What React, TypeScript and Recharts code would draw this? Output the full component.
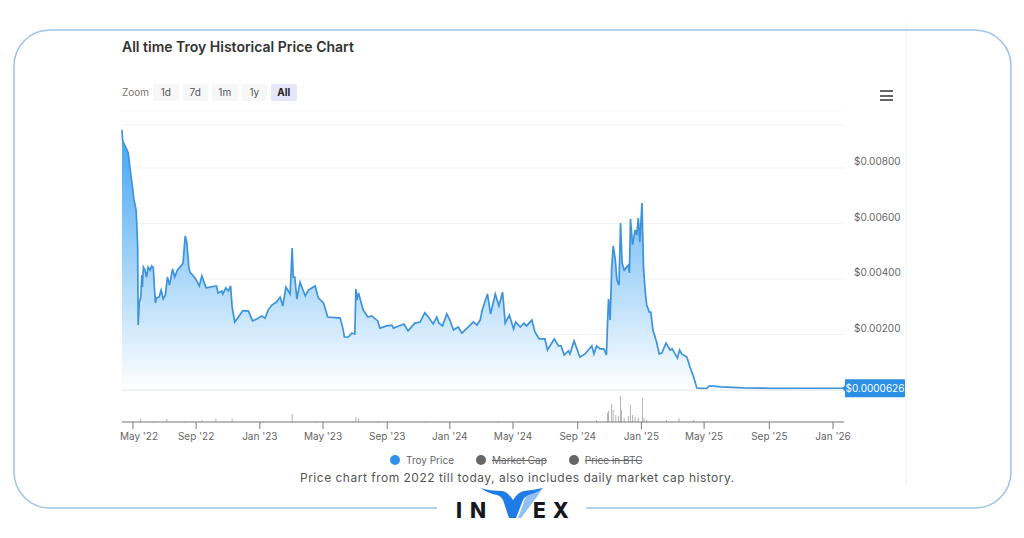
import React from 'react';
import {
  ComposedChart, AreaChart, Area, Bar, XAxis, YAxis, CartesianGrid, ReferenceLine, ReferenceDot
} from 'recharts';

// x values are days counted from the May '22 tick
const priceDays = [
  -21, -20, -19, -13, -9, -6, -2, 2, 6, 7, 9, 10, 12, 15, 17, 18, 20, 23, 26, 29, 33, 36, 39, 41, 43, 45, 50, 54, 58, 62,
  66, 70, 76, 80, 85, 93, 96, 100, 103, 107, 109, 119, 127, 132, 140, 160, 163, 170, 172, 178, 183, 187, 190, 195, 202,
  210, 221, 229, 237, 247, 253, 259, 266, 275, 282, 287, 293, 301, 305, 307, 310, 314, 320, 330, 336, 349, 355, 365, 373,
  397, 402, 405, 413, 419, 425, 427, 429, 432, 441, 450, 457, 469, 473, 486, 496, 499, 519, 527, 540, 550, 559, 566, 575,
  582, 586, 593, 601, 607, 614, 623, 630, 646, 652, 659, 665, 669, 679, 685, 694, 701, 708, 713, 721, 729, 733, 742, 749,
  754, 764, 770, 778, 789, 794, 807, 815, 820, 826, 834, 837, 845, 856, 866, 879, 883, 888, 895, 902, 907, 909, 911, 914,
  917, 920, 924, 927, 931, 934, 937, 941, 949, 951, 953, 957, 962, 965, 968, 971, 975, 978, 981, 984, 989, 992, 996, 1003,
  1008, 1013, 1021, 1029, 1033, 1043, 1047, 1051, 1061, 1067, 1074, 1080, 1099, 1103, 1112, 1125, 1169, 1207, 1221, 1362,
];
const prices = [
  0.00937, 0.00901, 0.00894, 0.00872, 0.00854, 0.00804, 0.00746, 0.00685, 0.00649, 0.00613, 0.00515, 0.00234, 0.00314,
  0.00335, 0.00414, 0.00371, 0.00443, 0.00432, 0.00407, 0.00443, 0.00432, 0.00447, 0.0044, 0.00371, 0.00314, 0.00332,
  0.00335, 0.0036, 0.00328, 0.00342, 0.00407, 0.00378, 0.00436, 0.00407, 0.00432, 0.0045, 0.00458, 0.00555, 0.00533,
  0.00443, 0.00425, 0.00404, 0.00375, 0.00411, 0.00368, 0.00375, 0.0035, 0.00357, 0.00346, 0.00368, 0.00357, 0.00375,
  0.00299, 0.00245, 0.00263, 0.00285, 0.00285, 0.00249, 0.00256, 0.00267, 0.00259, 0.00288, 0.00306, 0.00317, 0.00335,
  0.00303, 0.00371, 0.00346, 0.00512, 0.00407, 0.00407, 0.00328, 0.00389, 0.00339, 0.0036, 0.00375, 0.00332, 0.00314,
  0.00263, 0.00259, 0.00223, 0.00191, 0.00191, 0.00205, 0.00202, 0.00364, 0.00324, 0.0035, 0.00288, 0.00263, 0.00267,
  0.00249, 0.00223, 0.00231, 0.00234, 0.00223, 0.00238, 0.00213, 0.00241, 0.00245, 0.00278, 0.00263, 0.00238, 0.00263,
  0.00241, 0.00231, 0.00274, 0.00252, 0.00216, 0.00227, 0.00205, 0.00234, 0.00245, 0.00234, 0.00252, 0.00288, 0.00346,
  0.00274, 0.00346, 0.00303, 0.00353, 0.00241, 0.0027, 0.0022, 0.00245, 0.00227, 0.00241, 0.00231, 0.00252, 0.00209,
  0.00184, 0.00184, 0.00144, 0.00184, 0.00159, 0.00159, 0.00126, 0.00141, 0.0013, 0.00177, 0.00119, 0.0013, 0.00159,
  0.0013, 0.00159, 0.00148, 0.00148, 0.00126, 0.00241, 0.00328, 0.00252, 0.0044, 0.00519, 0.00469, 0.00396, 0.00378,
  0.00602, 0.00458, 0.00432, 0.0045, 0.00422, 0.00616, 0.00523, 0.00577, 0.00559, 0.0062, 0.00533, 0.00674, 0.0044,
  0.0036, 0.00306, 0.00281, 0.00281, 0.00216, 0.00173, 0.0013, 0.00133, 0.00169, 0.00144, 0.00148, 0.00115, 0.00144,
  0.0013, 0.00119, 0.00083, 0.00047, 0.00007, 0.00005, 0.00014, 0.00014, 0.00011, 0.00008, 0.00007, 0.00006, 0.0000626,
];

const volumeDays = [
  15, 40, 65, 100, 132, 159, 190, 250, 305, 350, 427, 432, 470, 560, 700, 888, 909, 911, 917, 920, 925, 930, 934, 936, 941,
  949, 953, 957, 962, 968, 976, 979, 984, 1022, 1046, 1074,
];
const volumes = [
  30, 10, 30, 10, 20, 30, 30, 10, 80, 10, 50, 40, 10, 10, 10, 20, 90, 110, 180, 120, 70, 60, 260, 120, 40, 60, 170, 70, 50,
  40, 240, 40, 20, 20, 40, 20,
];

const priceTicks = [0, 0.002, 0.004, 0.006, 0.008];
const tickDays = [0, 121, 243, 364, 487, 607, 728, 852, 974, 1094, 1219, 1341];
const tickLabels = ["May '22", "Sep '22", "Jan '23", "May '23", "Sep '23", "Jan '24", "May '24", "Sep '24", "Jan '25", "May '25", "Sep '25", "Jan '26"];
const zoomButtons = ['1d', '7d', '1m', '1y', 'All'];
const legendNames = ['Troy Price', 'Market Cap', 'Price in BTC'];

const priceData = priceDays.map((day, i) => ({ day, price: prices[i] }));
const volumeData = volumeDays.map((day, i) => ({ day, volume: volumes[i] }));
const xDomain = [-21, 1362];
const lastPoint = priceData[priceData.length - 1];

const FONT = 'Inter, sans-serif';

const PriceTick = ({ x, y, payload }: any) => {
  if (payload.value === 0) return null;
  return (
    <text x={x + 2} y={y - 3} fontSize={10} fontFamily={FONT} fill="#666">
      ${payload.value.toFixed(5)}
    </text>
  );
};

const DateTick = ({ x, y, payload, index }: any) => (
  <text x={x + (index === 0 ? 6 : 0)} y={y + 9} fontSize={10} fontFamily={FONT} fill="#666" textAnchor="middle">
    {tickLabels[tickDays.indexOf(payload.value)]}
  </text>
);

const LastPriceBadge = ({ cx, cy }: any) => (
  <g>
    <path d={`M${cx + 1} ${cy - 9} h59 q1 0 1 1 v16 q0 1 -1 1 h-59 v-6 l-3 -3 l3 -3 z`} fill="#2b8fe5" />
    <text x={cx + 31} y={cy + 3.5} fontSize={10} fontFamily={FONT} fill="#fff" textAnchor="middle">$0.0000626</text>
  </g>
);

const ZeroTick = ({ x, y }: any) => (
  <text x={x - 7} y={y - 2} fontSize={10} fontFamily={FONT} fill="#666">0</text>
);

function Frame() {
  return (
    <svg width={1024} height={538} style={{ position: 'absolute', left: 0, top: 0 }}>
      <line x1={906} y1={22} x2={906} y2={484} stroke="#f1f2f3" strokeWidth={1} />
      <line x1={122} y1={111} x2={844} y2={111} stroke="#f8f8f8" strokeWidth={1} />
      <path
        d="M437 508 H50 A36 36 0 0 1 14 472 V66 A36 36 0 0 1 50 30 H975 A36 36 0 0 1 1011 66 V472 A36 36 0 0 1 975 508 H586"
        fill="none" stroke="#9cc3ea" strokeWidth={1.5}
      />
      <text x={456} y={518} fontSize={21} fontWeight={800} fontFamily={FONT} fill="#15171c" letterSpacing={8}>IN</text>
      <text x={533} y={518} fontSize={21} fontWeight={800} fontFamily={FONT} fill="#15171c" letterSpacing={7}>EX</text>
      <path d="M518 518 L526 496 Q535 494 543 488 Q532 504 521 518 Z" fill="#8fc0f2" />
      <path
        d="M480 488 Q490 494 497 495 Q501 496 503 500 L509 518 H516 L523 500 Q525 496 529 495 Q537 493 543 488 Q534 490 524 491 Q518 492 513 500 Q508 492 502 491 Q490 491 480 488 Z"
        fill="#1f7be6"
      />
    </svg>
  );
}

export default function App() {
  return (
    <div style={{ position: 'fixed', left: 0, top: 0, width: 1024, height: 538, background: '#fff', overflow: 'hidden', fontFamily: FONT }}>
      <Frame />

      <div style={{ position: 'absolute', left: 122, top: 38, fontSize: 14, fontWeight: 600, color: '#333', whiteSpace: 'nowrap' }}>
        All time Troy Historical Price Chart
      </div>

      <div style={{ position: 'absolute', left: 122, top: 84, height: 17, lineHeight: '17px', fontSize: 10, color: '#777' }}>Zoom</div>
      <div style={{ position: 'absolute', left: 153, top: 84, display: 'flex', gap: 4 }}>
        {zoomButtons.map((b) => (
          <div
            key={b}
            style={{
              width: 25.5, height: 17, lineHeight: '17px', textAlign: 'center', fontSize: 10, borderRadius: 2,
              background: b === 'All' ? '#e6e6fa' : '#f7f7f7',
              color: b === 'All' ? '#222' : '#555',
              fontWeight: b === 'All' ? 700 : 400,
            }}
          >
            {b}
          </div>
        ))}
      </div>

      <div style={{ position: 'absolute', left: 880, top: 90 }}>
        {[0, 1, 2].map((i) => (
          <div key={i} style={{ width: 13, height: 2, background: '#666', marginBottom: 2.5 }} />
        ))}
      </div>

      {/* volume pane and date axis */}
      <div style={{ position: 'absolute', left: 0, top: 392 }}>
        <ComposedChart width={1024} height={60} data={volumeData} margin={{ top: 0, right: 180, bottom: 0, left: 122 }}>
          <XAxis
            dataKey="day" type="number" domain={xDomain} ticks={tickDays} interval={0} height={30}
            tickSize={7} stroke="#777" tick={DateTick} allowDataOverflow
          />
          <YAxis
            orientation="right" width={0} domain={[0, 300]} ticks={[0]} tickLine={false} stroke="#777" tick={ZeroTick}
          />
          <Bar dataKey="volume" fill="#8d8d8d" fillOpacity={0.7} barSize={1.5} isAnimationActive={false} />
        </ComposedChart>
      </div>

      {/* price pane */}
      <div style={{ position: 'absolute', left: 0, top: 0 }}>
        <AreaChart width={1024} height={400} data={priceData} margin={{ top: 125, right: 118, bottom: 10, left: 122 }}>
          <defs>
            <linearGradient id="priceFill" x1="0" y1="0" x2="0" y2="1">
              <stop offset="0%" stopColor="#3fa4f2" />
              <stop offset="100%" stopColor="#ffffff" />
            </linearGradient>
          </defs>
          <CartesianGrid horizontal vertical={false} stroke="#f3f3f3" />
          <XAxis dataKey="day" type="number" domain={xDomain} hide />
          <YAxis
            orientation="right" width={62} domain={[0, 0.00955]} ticks={priceTicks} interval={0}
            axisLine={false} tickLine={false} tick={PriceTick}
          />
          <ReferenceLine y={0} stroke="#e6e6e6" />
          <Area
            type="linear" dataKey="price" stroke="#3d93dc" strokeWidth={1.7} fill="url(#priceFill)" fillOpacity={1}
            dot={false} activeDot={false} isAnimationActive={false}
          />
          <ReferenceDot x={lastPoint.day} y={lastPoint.price} shape={LastPriceBadge} />
        </AreaChart>
      </div>

      <div style={{ position: 'absolute', left: 390, top: 453, display: 'flex', fontSize: 10, lineHeight: '14px', color: '#666' }}>
        {legendNames.map((name, i) => (
          <div key={name} style={{ display: 'flex', alignItems: 'center', marginRight: 22 }}>
            <span style={{ width: 10, height: 10, borderRadius: 5, marginRight: 6, background: i === 0 ? '#2f8fe6' : '#666' }} />
            <span style={{ textDecoration: i === 0 ? 'none' : 'line-through' }}>{name}</span>
          </div>
        ))}
      </div>

      <div style={{ position: 'absolute', left: 300, top: 470, fontSize: 12, letterSpacing: 0.5, color: '#555', whiteSpace: 'nowrap' }}>
        Price chart from 2022 till today, also includes daily market cap history.
      </div>
    </div>
  );
}
